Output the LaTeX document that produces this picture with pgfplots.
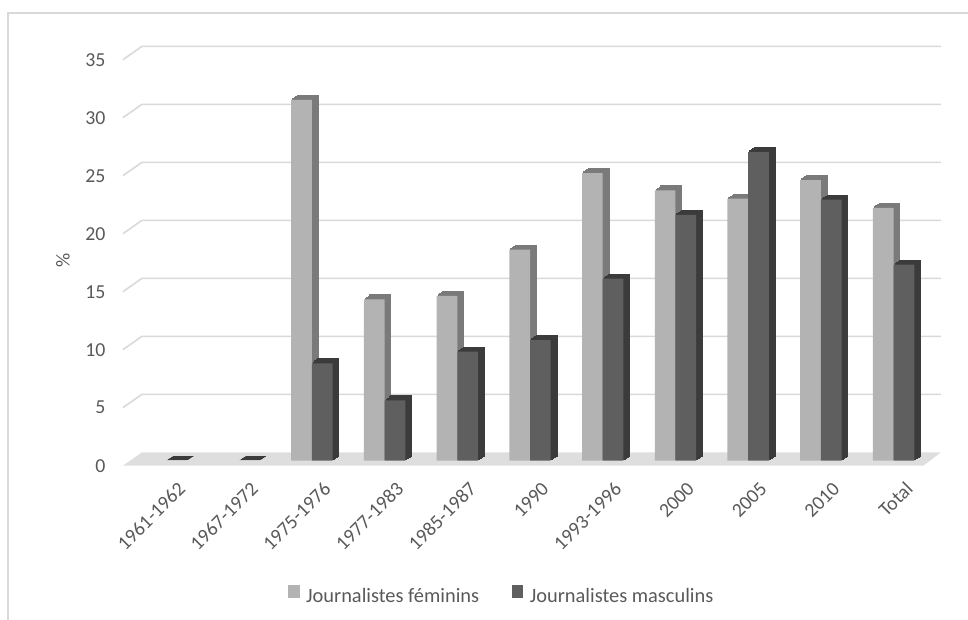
\documentclass[border=0pt]{standalone}
\usepackage{fontspec}
\setmainfont{Carlito}
\usepackage{pgfplots}
\pgfplotsset{compat=1.18}

\definecolor{femfront}{HTML}{B3B3B3}
\definecolor{femdepth}{HTML}{7A7A7A}
\definecolor{mascfront}{HTML}{5F5F5F}
\definecolor{mascdepth}{HTML}{3B3B3B}
\definecolor{gridgray}{HTML}{D9D9D9}
\definecolor{floorgray}{HTML}{DEDEDE}
\definecolor{framegray}{HTML}{D9D9D9}
\definecolor{labelgray}{HTML}{595959}

% share of each group, per period (x = period index)
\pgfplotstableread{
x  y
2  31.1
3  13.9
4  14.2
5  18.2
6  24.8
7  23.3
8  22.6
9  24.2
10 21.8
}\feminins
\pgfplotstableread{
x  y
0  0
1  0
2  8.4
3  5.2
4  9.4
5  10.4
6  15.7
7  21.2
8  26.6
9  22.5
10 16.9
}\masculins

% extruded look: shifted copies of each bar drawn behind its front face
\tikzset{
  depthcopy/.style 2 args={preaction={fill=#1, draw=#1, line width=1.2pt,
      transform canvas={shift={(#2)}}}},
  prism/.style={
    depthcopy={#1}{6.2pt,4.4pt},
    depthcopy={#1}{4.65pt,3.3pt},
    depthcopy={#1}{3.1pt,2.2pt},
    depthcopy={#1}{1.55pt,1.1pt},
  },
}

\newcommand{\lblfont}{\fontsize{19.8pt}{23pt}\selectfont}
\newcommand{\legfont}{\fontsize{20.4pt}{24pt}\selectfont}

\begin{document}
\begin{tikzpicture}
\useasboundingbox (0,0) rectangle (968pt,620pt);
\draw[framegray, line width=1.2pt] (8pt,0) -- (8pt,607pt) -- (968pt,607pt);
\begin{axis}[
  at={(130pt,154.3pt)}, anchor=south west,
  scale only axis, width=800pt, height=421.4pt,
  xmin=-0.5, xmax=10.5, ymin=-0.43, ymax=35.9,
  clip=false,
  axis line style={draw=none},
  major tick length=0pt,
  ybar, bar width=20.7pt,
  xtick={0,...,10},
  xticklabels={1961-1962,1967-1972,1975-1976,1977-1983,1985-1987,1990,1993-1996,2000,2005,2010,Total},
  xticklabel style={rotate=45, anchor=north east, inner sep=0pt, xshift=-3pt, yshift=-18pt},
  ytick={-0.43,4.57,9.57,14.57,19.57,24.57,29.57,34.57},
  yticklabels={0,5,10,15,20,25,30,35},
  yticklabel style={anchor=east, inner sep=0pt, xshift=-24.3pt},
  ticklabel style={font=\lblfont, text=labelgray},
  ylabel={\%},
  every axis y label/.style={at={(axis description cs:-0.08375,0.488)}, rotate=90, anchor=center, font=\lblfont, text=labelgray},
  legend columns=2,
  legend cell align=left,
  legend style={at={(axis description cs:0.1975,-0.3068)}, anchor=west,
    draw=none, fill=none, inner sep=0pt, font=\legfont, text=labelgray,
    nodes={inner sep=0pt},
    /tikz/every odd column/.append style={column sep=7pt},
    /tikz/every even column/.append style={column sep=32.7pt}},
]
% floor and back-wall grid
\fill[floorgray] (axis cs:-0.597,-0.43) -- (axis cs:10.41,-0.43) -- (axis cs:10.65,0.724) -- (axis cs:-0.336,0.724) -- cycle;
\draw[gridgray, line width=1.6pt] (axis cs:-0.597,4.57) -- (axis cs:-0.336,5.724) -- (axis cs:10.65,5.724);
\draw[gridgray, line width=1.6pt] (axis cs:-0.597,9.57) -- (axis cs:-0.336,10.724) -- (axis cs:10.65,10.724);
\draw[gridgray, line width=1.6pt] (axis cs:-0.597,14.57) -- (axis cs:-0.336,15.724) -- (axis cs:10.65,15.724);
\draw[gridgray, line width=1.6pt] (axis cs:-0.597,19.57) -- (axis cs:-0.336,20.724) -- (axis cs:10.65,20.724);
\draw[gridgray, line width=1.6pt] (axis cs:-0.597,24.57) -- (axis cs:-0.336,25.724) -- (axis cs:10.65,25.724);
\draw[gridgray, line width=1.6pt] (axis cs:-0.597,29.57) -- (axis cs:-0.336,30.724) -- (axis cs:10.65,30.724);
\draw[gridgray, line width=1.6pt] (axis cs:-0.597,34.57) -- (axis cs:-0.336,35.724) -- (axis cs:10.65,35.724);

\addlegendimage{legend image code/.code={\fill[femfront] (0pt,-0.3pt) rectangle (10.6pt,11pt);}}
\addlegendentry{Journalistes féminins}
\addlegendimage{legend image code/.code={\fill[mascfront] (0pt,-0.3pt) rectangle (10.6pt,11pt);}}
\addlegendentry{Journalistes masculins}

\addplot[forget plot, bar shift=-10.35pt, fill=femfront, draw=none, prism=femdepth]
  table[x=x, y=y] {\feminins};
\addplot[forget plot, bar shift=10.35pt, fill=mascfront, draw=none, prism=mascdepth]
  table[x=x, y=y] {\masculins};
\end{axis}
\end{tikzpicture}
\end{document}
